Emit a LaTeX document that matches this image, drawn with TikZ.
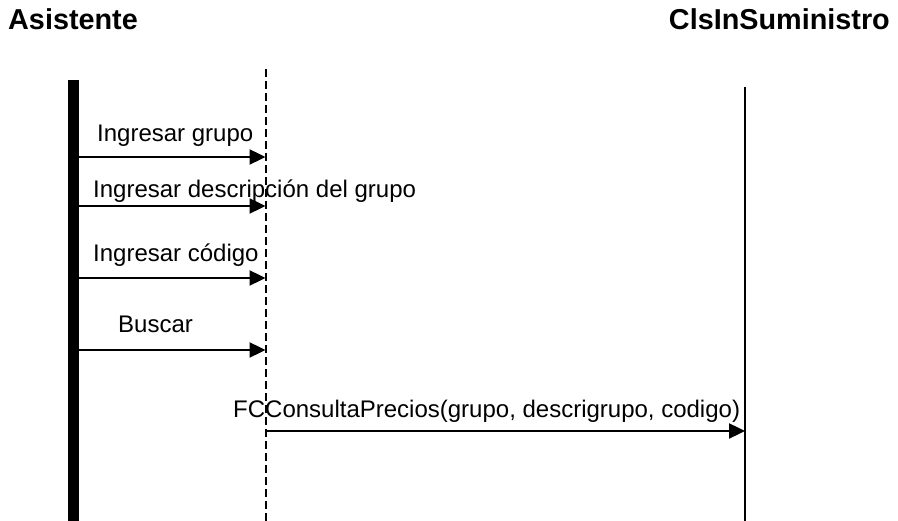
\documentclass[tikz,border=0pt]{standalone}
\usepackage{fontspec}
\setmainfont{Liberation Sans}
\usetikzlibrary{arrows.meta}
\begin{document}
\begin{tikzpicture}[x=1pt,y=-1pt,
  msg/.style={line width=2.4pt,-{Triangle[length=16pt,width=15pt]}},
  lbl/.style={anchor=base west,inner sep=0pt,font=\fontsize{24}{28}\selectfont},
  ttl/.style={anchor=base west,inner sep=0pt,font=\fontsize{28.8}{32}\selectfont\bfseries}]
\useasboundingbox (0,0) rectangle (898,521);
% titles
\node[ttl] (tA) at (8,30) {Asistente};
\node[ttl,anchor=base east] (tB) at (890,30) {ClsInSuministro};
% lifelines
\fill (67.5,80.5) rectangle (79,521);
\coordinate (dTop) at (265.5,69);
\coordinate (dBot) at (265.5,521);
\draw[line width=2pt,dash pattern=on 8pt off 4pt] (dTop) -- (dBot);
\coordinate (rTop) at (745,87);
\coordinate (rBot) at (745,521);
\draw[line width=2.2pt] (rTop) -- (rBot);
% message end points
\coordinate (a1) at (79,157); \coordinate (b1) at (265.5,157);
\coordinate (a2) at (79,206); \coordinate (b2) at (265.5,206);
\coordinate (a3) at (79,278); \coordinate (b3) at (265.5,278);
\coordinate (a4) at (79,350); \coordinate (b4) at (265.5,350);
\coordinate (a5) at (265.5,431); \coordinate (b5) at (745,431);
\draw[msg] (a1) -- (b1);
\draw[msg] (a2) -- (b2);
\draw[msg] (a3) -- (b3);
\draw[msg] (a4) -- (b4);
\draw[msg] (a5) -- (b5);
% labels
\node[lbl] (l1) at (97,142) {Ingresar grupo};
\node[lbl] (l2) at (93,198) {Ingresar descripción del grupo};
\node[lbl] (l3) at (93,262) {Ingresar código};
\node[lbl] (l4) at (118,333) {Buscar};
\node[lbl] (l5) at (233,418) {FCConsultaPrecios(grupo, descrigrupo, codigo)};
\end{tikzpicture}
\end{document}
